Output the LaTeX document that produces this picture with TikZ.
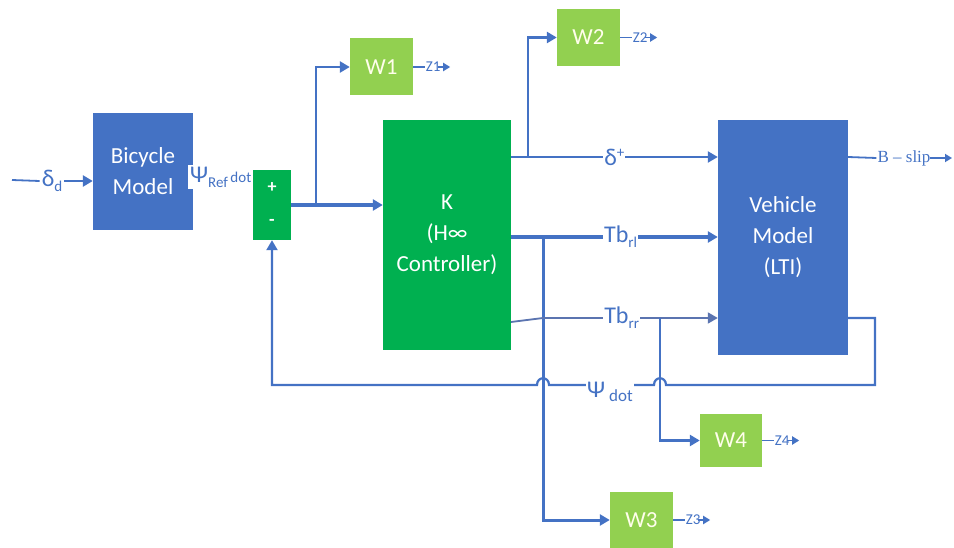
\documentclass[tikz,border=0pt]{standalone}
\usepackage{fontspec}
\setmainfont{Carlito}
\newfontfamily\seriffont{Liberation Serif}
\usetikzlibrary{arrows.meta}
\definecolor{lb}{HTML}{4472C4}
\definecolor{lbg}{HTML}{5B74B0}
\definecolor{dg}{HTML}{00B050}
\definecolor{lg}{HTML}{92D050}
\begin{document}
\begin{tikzpicture}[x=1pt,y=-1pt,
  blk/.style={draw=none, align=center, text=white, font=\fontsize{23}{31}\selectfont, inner sep=0pt},
  bluebox/.style={blk, fill=lb},
  kbox/.style={blk, fill=dg},
  wbox/.style={blk, fill=lg, text=white!92!yellow, minimum width=63pt, minimum height=57pt},
  wire/.style={draw=lb, line width=2.6pt},
  thickwire/.style={draw=lb, line width=4.5pt},
  thinwire/.style={draw=lbg, line width=1.8pt},
  tip/.style={-{Triangle[length=10pt,width=11pt]}},
  smalltip/.style={-{Triangle[length=7pt,width=8pt]}},
  lbl/.style={fill=white, text=lb, inner sep=1pt, font=\fontsize{24}{24}\selectfont},
  zlbl/.style={text=lb, inner sep=0.5pt, font=\fontsize{15}{15}\selectfont}
]
\useasboundingbox (0,0) rectangle (954,548);

% blocks
\node[bluebox, minimum width=100pt, minimum height=117pt] (bike) at (143,171.5) {Bicycle\\Model};
\node[lbl, anchor=west, inner sep=2pt] (psiref) at (188,177) {Ψ{\fontsize{15}{15}\selectfont\raisebox{-5pt}{Ref}\,dot}};
\node[kbox, minimum width=38pt, minimum height=70pt] (sum) at (272,205) {};
\node[text=white, font=\fontsize{18}{18}\selectfont\bfseries] at ([yshift=17pt]sum.center) {+};
\node[text=white, font=\fontsize{18}{18}\selectfont\bfseries] at ([yshift=-17pt]sum.center) {-};
\node[kbox, minimum width=128pt, minimum height=230pt] (K) at (447,235) {K\\(H∞\\Controller)};
\node[bluebox, minimum width=130pt, minimum height=235pt] (veh) at (783,237.5) {Vehicle\\Model\\(LTI)};
\node[wbox] (W1) at (381.5,67) {W1};
\node[wbox] (W2) at (588.5,37.5) {W2};
\node[wbox, minimum width=63pt, minimum height=56pt] (W3) at (641.5,520) {W3};
\node[wbox, minimum width=62pt, minimum height=53pt] (W4) at (731,440.5) {W4};

% input delta_d
\coordinate (din) at (12,180);
\node[lbl, inner sep=2pt] (dd) at (52,181) {δ{\fontsize{15}{15}\selectfont\raisebox{-5pt}{d}}};
\draw[thinwire, draw=lb] (din) -- (dd.west);
\draw[wire, tip] (dd.east) -- (bike.west |- dd.east);

% sum -> K and branch to W1
\coordinate (sout) at (sum.east);
\coordinate (b1) at (316,205);
\draw[thickwire, tip] (sout) -- (K.west |- sout);
\draw[wire, tip] (b1) -- (b1 |- W1.west) -- (W1.west);

% W outputs
\foreach \w/\z in {W1/Z1, W2/Z2, W3/Z3, W4/Z4}{
  \coordinate (\w e) at ([xshift=12pt]\w.east);
  \draw[draw=lb, line width=1.8pt] (\w.east) -- (\w e);
  \node[zlbl, anchor=west] (\z) at (\w e) {\z};
  \draw[draw=lb, line width=1.8pt, smalltip] ([xshift=-3pt]\z.east) -- ([xshift=9pt]\z.east);
}

% delta+ line and branch to W2
\coordinate (kd) at (511,157);
\coordinate (b2) at (528,157);
\draw[thinwire, draw=lb, line width=2.2pt, tip] (kd) -- (veh.west |- kd)
  node[lbl, pos=0.5] (dplus) {δ{\fontsize{15}{15}\selectfont\raisebox{8pt}{+}}};
\draw[wire, tip] (b2) -- (b2 |- W2.west) -- (W2.west);

% Tb_rl and branch to W3
\coordinate (kl) at (511,237);
\coordinate (b3) at (543,237);
\draw[thickwire, tip] (kl) -- (veh.west |- kl)
  node[lbl, pos=0.53] (tbrl) {Tb{\fontsize{15}{15}\selectfont\raisebox{-5pt}{rl}}};
\draw[wire, line width=3pt, tip] (b3) -- (b3 |- W3.west) -- (W3.west);

% Tb_rr and branch to W4
\coordinate (kr) at (511,322);
\coordinate (jr) at (543,318);
\coordinate (b4) at (660,318);
\draw[thinwire, tip] (kr) -- (jr) -- (veh.west |- jr)
  node[lbl, pos=0.45] (tbrr) {Tb{\fontsize{15}{15}\selectfont\raisebox{-5pt}{rr}}};
\draw[wire, tip] (b4) -- (b4 |- W4.west) -- (W4.west);

% feedback psi dot
\coordinate (vo) at (848,318);
\coordinate (fr) at (875,318);
\coordinate (fb) at (875,385);
\coordinate (fl) at (272,385);
\draw[wire, line width=2.2pt, tip] (vo) -- (fr) -- (fb) -- (666,385)
  .. controls (666,376) and (654,376) .. (654,385) -- (549,385)
  .. controls (549,376) and (537,376) .. (537,385) -- (fl) -- (sum.south);
\node[lbl] (psidot) at (610,392) {Ψ\,{\fontsize{17}{17}\selectfont\raisebox{-4pt}{dot}}};

% output B-slip
\coordinate (vb) at (848,157);
\node[text=lb, inner sep=1pt, font=\seriffont\fontsize{17}{17}\selectfont] (bslip) at (904,158) {B – slip};
\draw[draw=lb, line width=1.8pt] (vb) -- (bslip.west);
\draw[draw=lb, line width=1.8pt, smalltip] ([xshift=-2pt]bslip.east) -- (952,158);
\end{tikzpicture}
\end{document}
